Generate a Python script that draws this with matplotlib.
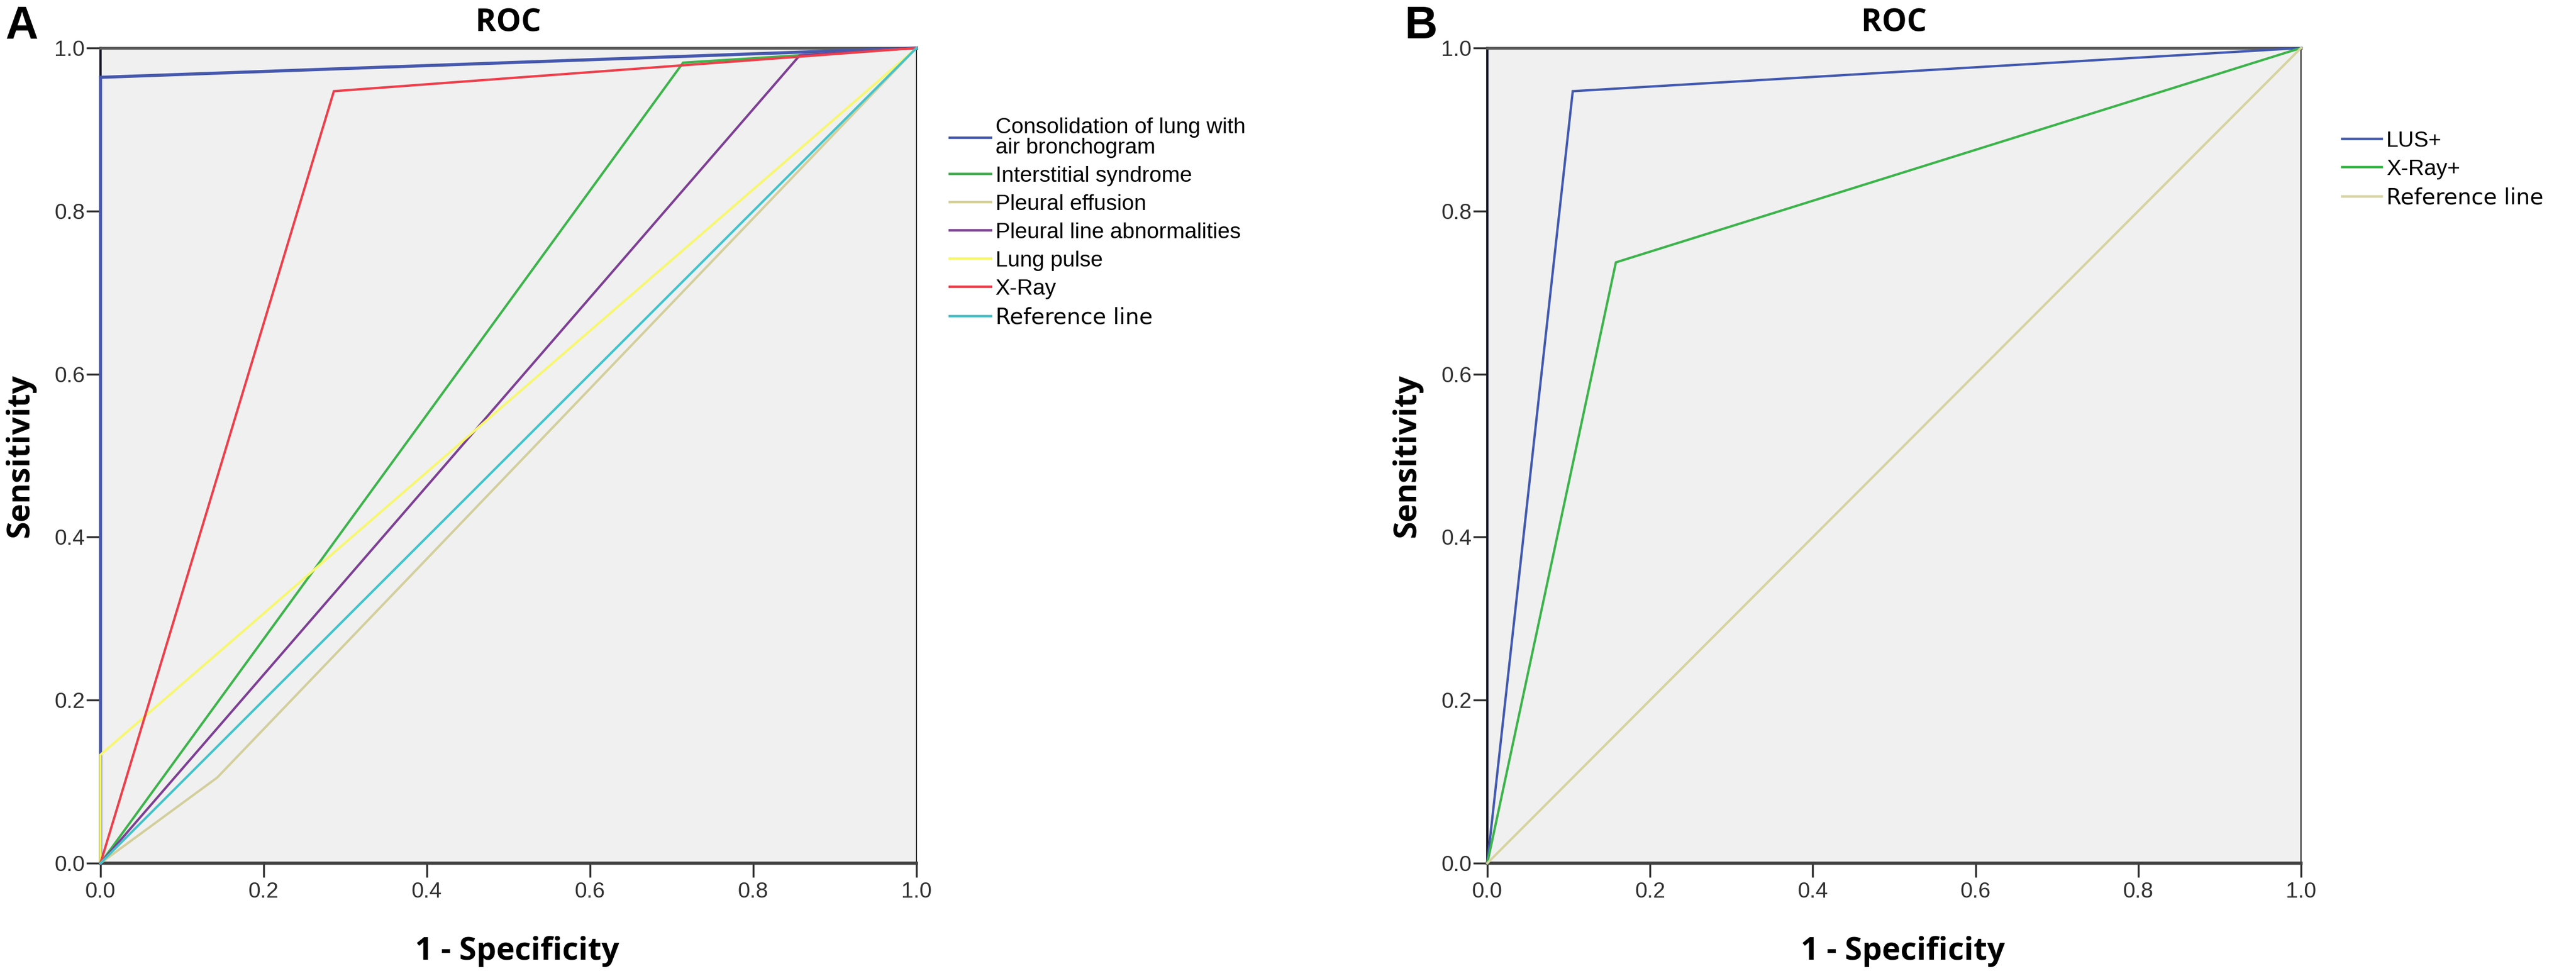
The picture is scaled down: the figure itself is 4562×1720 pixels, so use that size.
import matplotlib
matplotlib.use("Agg")
import matplotlib.pyplot as plt

# ---- data: panel A (ROC points, 1 - specificity / sensitivity)
labels_a = ["Consolidation of lung with\nair bronchogram", "Interstitial syndrome",
            "Pleural effusion", "Pleural line abnormalities", "Lung pulse", "X-Ray",
            "Reference line"]
fpr_a = [
    [0.0, 0.0, 1.0],
    [0.0, 0.714, 1.0],
    [0.0, 0.143, 1.0],
    [0.0, 0.857, 1.0],
    [0.0, 0.0, 1.0],
    [0.0, 0.286, 1.0],
    [0.0, 1.0],
]
tpr_a = [
    [0.0, 0.964, 1.0],
    [0.0, 0.982, 1.0],
    [0.0, 0.105, 1.0],
    [0.0, 0.991, 1.0],
    [0.0, 0.133, 1.0],
    [0.0, 0.947, 1.0],
    [0.0, 1.0],
]
colors_a = ["#4658ad", "#3cb44b", "#d3cf9c", "#7d3f95", "#f7f76e", "#ee3f4b", "#42c3cc"]

# ---- data: panel B
labels_b = ["LUS+", "X-Ray+", "Reference line"]
fpr_b = [[0.0, 0.105, 1.0], [0.0, 0.158, 1.0], [0.0, 1.0]]
tpr_b = [[0.0, 0.947, 1.0], [0.0, 0.737, 1.0], [0.0, 1.0]]
colors_b = ["#4259b0", "#3cb44b", "#d6d3a0"]

ticks = [0.0, 0.2, 0.4, 0.6, 0.8, 1.0]
tick_labels = ["0.0", "0.2", "0.4", "0.6", "0.8", "1.0"]

W, H = 4562, 1720
fig = plt.figure(figsize=(W / 100, H / 100), dpi=100)


def fx(px):
    return px / W


def fy(py):
    return 1 - py / H


def make_axes(left, right, top, bottom):
    ax = fig.add_axes([fx(left), fy(bottom), fx(right - left), (bottom - top) / H])
    ax.set_facecolor("#f0f0f0")
    ax.set_xlim(0, 1)
    ax.set_ylim(0, 1)
    ax.set_xticks(ticks)
    ax.set_yticks(ticks)
    ax.set_xticklabels(tick_labels)
    ax.set_yticklabels(tick_labels)
    ax.tick_params(direction="out", length=18, width=2.5, color="#303030",
                   labelsize=28, labelcolor="#303030")
    ax.tick_params(axis="x", pad=6)
    ax.tick_params(axis="y", pad=2)
    for lab in ax.get_xticklabels() + ax.get_yticklabels():
        lab.set_family("Liberation Sans")
    ax.spines["top"].set_linewidth(3.5)
    ax.spines["top"].set_color("#5a5a5a")
    ax.spines["left"].set_linewidth(3)
    ax.spines["left"].set_color("#18182a")
    ax.spines["bottom"].set_linewidth(4)
    ax.spines["bottom"].set_color("#404040")
    ax.spines["right"].set_linewidth(1.5)
    ax.spines["right"].set_color("#202020")
    return ax


def decorate(ax, left, right, letter, letter_x):
    cx = (left + right) / 2
    fig.text(fx(cx), fy(55), "ROC", ha="center", va="baseline",
             fontsize=40, fontweight="bold", family="Open Sans")
    fig.text(fx(cx + 15), fy(1700), "1 - Specificity", ha="center", va="baseline",
             fontsize=40, fontweight="bold", family="Open Sans")
    fig.text(fx(left - 128), fy(807), "Sensitivity", ha="center", va="baseline",
             rotation=90, rotation_mode="anchor",
             fontsize=40, fontweight="bold", family="Open Sans")
    fig.text(fx(letter_x), fy(68), letter, ha="left",
             va="baseline", fontsize=58, fontweight="bold", family="Liberation Sans")


# ---- panel A
axA = make_axes(178, 1623, 85, 1529)
for xs, ys, c, lab in zip(fpr_a, tpr_a, colors_a, labels_a):
    lw = 4.0 if c == colors_a[0] else 3.0
    axA.plot(xs, ys, color=c, lw=lw, label=lab, clip_on=False, zorder=3,
             solid_joinstyle="miter")
legA = axA.legend(loc="upper left", bbox_to_anchor=(fx(1682), fy(208)),
                  bbox_transform=fig.transFigure, frameon=False, borderpad=0,
                  borderaxespad=0, handlelength=1.87, handletextpad=0.2,
                  labelspacing=0.36, prop={"family": "Liberation Sans", "size": 28})
legA.get_texts()[0].set_linespacing(1.0)
legA.get_texts()[-1].set_family("DejaVu Sans")
for h in legA.get_lines():
    h.set_linewidth(3.2)
decorate(axA, 178, 1623, "A", 10)

# ---- panel B
axB = make_axes(2634, 4075, 85, 1529)
for xs, ys, c, lab in zip(fpr_b, tpr_b, colors_b, labels_b):
    axB.plot(xs, ys, color=c, lw=3.0, label=lab, clip_on=False, zorder=3,
             solid_joinstyle="miter")
legB = axB.legend(loc="upper left", bbox_to_anchor=(fx(4148), fy(232)),
                  bbox_transform=fig.transFigure, frameon=False, borderpad=0,
                  borderaxespad=0, handlelength=1.8, handletextpad=0.2,
                  labelspacing=0.36, prop={"family": "Liberation Sans", "size": 28})
legB.get_texts()[-1].set_family("DejaVu Sans")
for h in legB.get_lines():
    h.set_linewidth(3.2)
decorate(axB, 2634, 4075, "B", 2488)

fig.savefig("out.png", dpi=100, facecolor="white")
